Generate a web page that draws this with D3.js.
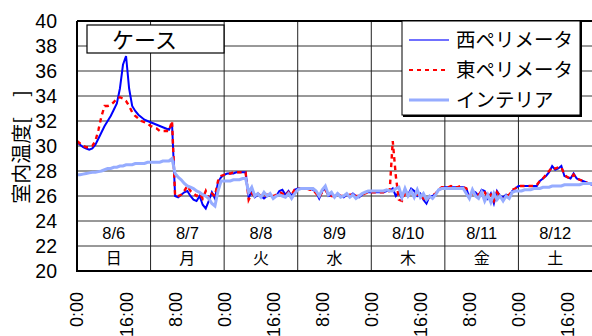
<!DOCTYPE html>
<html><head><meta charset="utf-8">
<script src="https://cdn.jsdelivr.net/npm/d3@7"></script>
<style>
html,body{margin:0;padding:0;background:#fff;}
svg{display:block;}
text{font-family:"Liberation Sans",Arial,sans-serif;fill:#000;}
.jp{font-family:"Noto Sans CJK JP","Noto Sans CJK SC",sans-serif;}
</style></head><body>
<svg id="c" width="592" height="336"></svg>
<script>
// ---- data (hourly, 8/6 0:00 .. 8/13 0:00) ----
const dates = ["8/6","8/7","8/8","8/9","8/10","8/11","8/12"];
const weekdays = ["日","月","火","水","木","金","土"];
const yTicks = [20,22,24,26,28,30,32,34,36,38,40];
const xTickHours = [0,16,32,48,64,80,96,112,128,144,160];
const seriesNames = ["西ペリメータ","東ペリメータ","インテリア"];

const west = [
30.3,30.1,29.9,29.8,29.7,29.8,30.1,30.6,31.1,31.6,32.0,32.4,32.9,33.4,34.6,36.5,37.2,34.6,33.2,32.8,32.5,32.3,32.1,32.0,
31.9,31.8,31.7,31.6,31.5,31.4,31.3,31.8,26.0,25.9,26.1,26.3,26.4,26.0,25.7,25.6,26.0,25.3,25.0,25.6,26.3,25.8,27.1,27.5,
27.7,27.8,27.8,27.8,27.9,27.9,27.9,27.9,25.9,26.3,25.9,26.1,26.0,25.8,26.0,26.1,25.9,26.0,26.4,26.5,26.1,26.4,26.0,26.5,
26.6,26.6,26.6,26.6,26.6,26.5,26.3,25.8,26.4,26.6,26.0,26.1,25.9,26.2,26.0,25.9,26.1,26.0,26.2,26.0,25.9,26.1,26.3,26.3,
26.3,26.3,26.3,26.3,26.3,26.4,26.4,26.6,26.0,26.3,25.8,26.5,26.1,26.6,26.4,26.0,26.2,25.7,25.4,26.0,26.0,26.2,26.5,26.6,
26.7,26.7,26.7,26.7,26.7,26.7,26.7,26.6,25.9,26.4,26.3,26.0,26.5,26.4,25.8,26.2,25.4,26.4,26.0,25.9,26.1,26.0,26.4,26.6,
26.8,26.8,26.8,26.8,26.8,26.8,26.8,27.2,27.4,27.6,27.9,28.4,28.1,28.2,28.4,27.6,27.5,27.4,27.8,27.4,27.3,27.2,27.1,27.0,
26.9];

const east = [
30.4,30.2,30.0,29.9,29.9,30.0,30.4,31.3,32.4,33.2,33.2,33.3,33.5,33.8,33.9,33.8,33.6,33.2,32.7,32.4,32.2,32.0,31.9,31.8,
31.6,31.5,31.4,31.2,31.2,31.2,31.2,32.0,26.0,26.0,26.1,26.4,26.8,26.4,26.2,26.0,26.2,25.8,26.4,25.8,26.2,26.0,27.2,27.6,
27.7,27.8,27.8,27.9,27.9,27.9,27.9,27.9,25.7,26.2,26.0,26.2,26.0,25.9,26.1,26.0,26.0,26.1,26.3,26.2,26.0,26.3,26.1,26.5,
26.6,26.6,26.6,26.6,26.5,26.5,26.2,25.9,26.3,26.5,26.1,26.0,26.0,26.1,26.0,26.0,26.0,26.1,26.1,26.0,26.0,26.1,26.2,26.3,
26.3,26.3,26.3,26.3,26.3,26.3,26.4,30.4,27.6,25.7,25.6,26.2,26.0,26.4,26.3,26.1,26.1,25.8,25.6,26.0,26.1,26.2,26.5,26.7,
26.7,26.7,26.8,26.7,26.7,26.8,26.7,26.6,25.8,26.3,26.2,26.1,26.4,26.3,25.9,26.1,25.6,26.3,26.0,25.7,26.0,26.1,26.5,26.6,
26.8,26.8,26.8,26.8,26.8,26.8,26.9,27.2,27.4,27.7,28.0,28.3,28.2,28.3,28.3,27.7,27.5,27.4,27.7,27.4,27.3,27.2,27.1,27.0,
26.9];

const interior = [
27.7,27.7,27.75,27.8,27.85,27.9,27.9,27.95,28.0,28.1,28.2,28.2,28.3,28.3,28.4,28.4,28.5,28.5,28.5,28.6,28.6,28.6,28.6,28.7,
28.7,28.7,28.7,28.7,28.8,28.8,28.8,29.0,27.8,27.5,27.3,27.0,26.8,26.7,26.6,26.4,26.3,26.1,26.0,25.8,25.4,25.2,26.4,27.2,
27.2,27.2,27.2,27.3,27.3,27.3,27.4,27.4,26.3,26.7,26.0,26.2,25.9,26.3,26.0,26.2,25.8,26.0,26.1,26.0,25.9,26.2,25.8,26.2,
26.5,26.6,26.6,26.6,26.6,26.6,26.4,26.0,26.5,26.8,26.1,26.3,25.9,26.2,25.9,26.0,26.2,25.9,26.1,25.8,26.0,26.2,26.3,26.4,
26.4,26.4,26.4,26.4,26.4,26.5,26.4,26.4,26.6,26.7,25.9,26.6,26.0,26.4,25.9,26.5,25.9,26.2,25.7,26.0,25.8,26.1,26.5,26.6,
26.6,26.6,26.6,26.6,26.6,26.6,26.6,26.2,25.8,26.5,26.0,25.8,26.3,25.6,26.1,25.5,26.2,25.7,26.0,25.6,26.0,25.8,26.3,26.4,
26.4,26.4,26.5,26.5,26.5,26.6,26.6,26.6,26.7,26.7,26.7,26.8,26.8,26.8,26.8,26.9,26.9,26.9,26.9,26.9,26.9,27.0,27.0,27.0,
27.0];

// ---- layout ----
const L = 77, R = 592, T = 21, B = 271;
const svg = d3.select("#c");
const x = d3.scaleLinear().domain([0,168]).range([L,R]);
const y = d3.scaleLinear().domain([20,40]).range([B,T]);

// horizontal grid
svg.append("g").selectAll("line").data(yTicks.filter(v=>v>20&&v<40)).join("line")
  .attr("x1",L).attr("x2",R).attr("y1",d=>y(d)).attr("y2",d=>y(d))
  .attr("stroke","#333").attr("stroke-width",1);
// vertical day grid
svg.append("g").selectAll("line").data(d3.range(1,7)).join("line")
  .attr("x1",d=>x(d*24)).attr("x2",d=>x(d*24)).attr("y1",T).attr("y2",B)
  .attr("stroke","#222").attr("stroke-width",1);

// series
const line = d3.line().x((d,i)=>x(i)).y(d=>y(d));
svg.append("path").datum(west).attr("d",line).attr("fill","none")
  .attr("stroke","#0000ff").attr("stroke-width",2);
svg.append("path").datum(east).attr("d",line).attr("fill","none")
  .attr("stroke","#ff0000").attr("stroke-width",2.4).attr("stroke-dasharray","4.5,4");
svg.append("path").datum(interior).attr("d",line).attr("fill","none")
  .attr("stroke","#96acff").attr("stroke-width",3);

// date and weekday labels
svg.append("g").selectAll("text").data(dates).join("text")
  .attr("x",(d,i)=>x(i*24+12)).attr("y",(y(24)+y(22))/2).attr("dy","0.36em")
  .attr("text-anchor","middle").attr("font-size",16.5).text(d=>d);
svg.append("g").selectAll("text").data(weekdays).join("text").attr("class","jp")
  .attr("x",(d,i)=>x(i*24+12)).attr("y",(y(22)+y(20))/2).attr("dy","0.36em")
  .attr("text-anchor","middle").attr("font-size",16).text(d=>d);

// axes frame
svg.append("line").attr("x1",L).attr("x2",L).attr("y1",T).attr("y2",B+1)
  .attr("stroke","#000").attr("stroke-width",2);
svg.append("line").attr("x1",L-1).attr("x2",R).attr("y1",B).attr("y2",B)
  .attr("stroke","#000").attr("stroke-width",2);
svg.append("line").attr("x1",L).attr("x2",R).attr("y1",T).attr("y2",T)
  .attr("stroke","#000").attr("stroke-width",2);

// y axis labels
const yAxis = d3.axisLeft(y).tickValues(yTicks).tickSize(0).tickPadding(20);
const gy = svg.append("g").attr("transform",`translate(${L},0)`).call(yAxis);
gy.select(".domain").remove();
gy.selectAll("text").attr("font-size",19.5).attr("font-family","Liberation Sans, Arial, sans-serif").attr("fill","#000");

// x axis labels (rotated)
const gx = svg.append("g");
gx.selectAll("text").data(xTickHours).join("text")
  .attr("transform",d=>`translate(${x(d)},292) rotate(-90)`)
  .attr("text-anchor","end").attr("dy","0.36em").attr("font-size",18)
  .text(d=>(d%24)+":00");

// y title
svg.append("text").attr("class","jp")
  .attr("transform",`translate(22,147) rotate(-90)`)
  .attr("text-anchor","middle").attr("dy","0.36em").attr("font-size",20)
  .text("室内温度[　]");

// case box
svg.append("rect").attr("x",87).attr("y",25).attr("width",137).attr("height",28)
  .attr("fill","#fff").attr("stroke","#000").attr("stroke-width",1.2);
svg.append("text").attr("class","jp").attr("x",112).attr("y",40).attr("dy","0.36em")
  .attr("font-size",22).text("ケース");

// legend
const lg = svg.append("g");
lg.append("rect").attr("x",403).attr("y",22).attr("width",179).attr("height",95).attr("fill","#000");
lg.append("rect").attr("x",402).attr("y",21).attr("width",178).attr("height",94)
  .attr("fill","#fff").attr("stroke","#000").attr("stroke-width",1);
const styles = [
  {c:"#4040ff",w:1.5,d:null},
  {c:"#ff0000",w:2.2,d:"4,4"},
  {c:"#96acff",w:3,d:null}
];
seriesNames.forEach((n,i)=>{
  const yy = 40 + i*30;
  lg.append("line").attr("x1",409).attr("x2",449).attr("y1",yy).attr("y2",yy)
    .attr("stroke",styles[i].c).attr("stroke-width",styles[i].w)
    .attr("stroke-dasharray",styles[i].d);
  lg.append("text").attr("class","jp").attr("x",456).attr("y",yy).attr("dy","0.36em")
    .attr("font-size",19.5).text(n);
});
</script>
</body></html>
